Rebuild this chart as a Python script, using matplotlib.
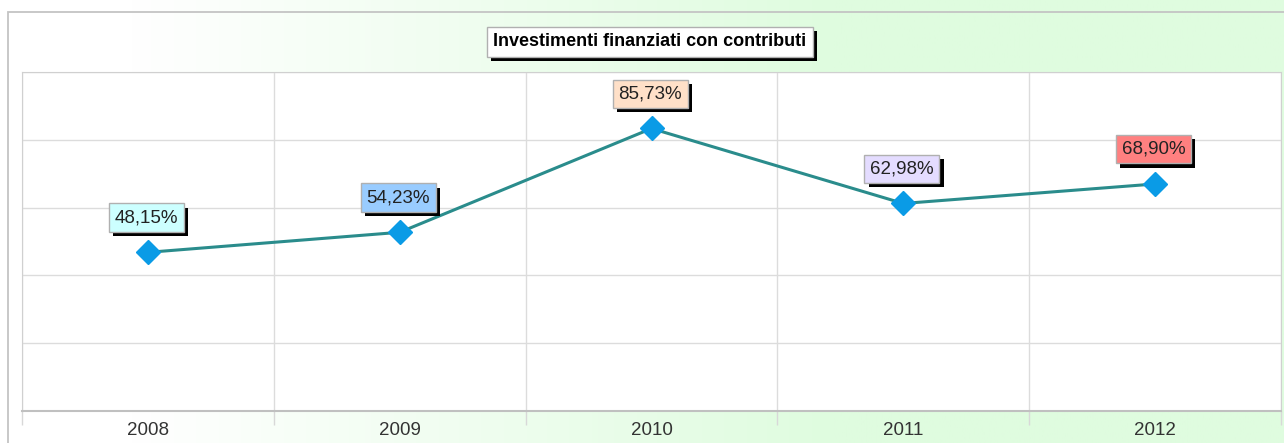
import numpy as np
import matplotlib
matplotlib.use('Agg')
import matplotlib.pyplot as plt
import matplotlib.patheffects as pe
from matplotlib.colors import LinearSegmentedColormap
from matplotlib.patches import Rectangle

# Data
years = ['2008', '2009', '2010', '2011', '2012']
values = [48.15, 54.23, 85.73, 62.98, 68.90]
labels = ['48,15%', '54,23%', '85,73%', '62,98%', '68,90%']
label_colors = ['#ccffff', '#99ccff', '#ffe0c8', '#e4dcff', '#ff8080']

plt.rcParams['font.family'] = ['Liberation Sans', 'DejaVu Sans']

W, H = 1284, 443
fig = plt.figure(figsize=(W / 100, H / 100), dpi=100)

# background gradient (white -> light green)
bg = fig.add_axes([0, 0, 1, 1], zorder=0)
grad = np.linspace(0, 1, 512)
grad = np.clip((grad - 0.1) / 0.55, 0, 1).reshape(1, -1)
cmap = LinearSegmentedColormap.from_list('bg', ['#ffffff', '#dffcdf'])
bg.imshow(grad, aspect='auto', cmap=cmap, extent=[0, 1, 0, 1])
bg.add_patch(Rectangle((8 / W, -0.1), 1.2, 1 - 12 / H + 0.1, fill=False,
                       edgecolor='#c4c4c4', lw=1.3))
bg.set_xlim(0, 1)
bg.set_ylim(0, 1)
bg.axis('off')

left, right, top, bottom = 22, 1281, 72, 411
ax = fig.add_axes([left / W, 1 - bottom / H, (right - left) / W, (bottom - top) / H], zorder=1)
ax.set_facecolor('white')

x = np.arange(len(years))
ax.plot(x, values, color='#2a8c8c', lw=2.2, zorder=3)
ax.plot(x, values, 'D', color='#0a9be6', markersize=12, zorder=4)

ax.set_xlim(-0.5, len(years) - 0.5)
ymax = max(values) * 1.2
ax.set_ylim(0, ymax)
ax.set_yticks(np.linspace(0, ymax, 6))
ax.set_yticklabels([])
ax.tick_params(axis='y', length=0)
ax.set_xticks(x)
ax.set_xticklabels(years, fontsize=13.5, color='#333333')
ax.tick_params(axis='x', which='major', length=0, pad=8)
ax.set_xticks(np.arange(-0.5, len(years)), minor=True)
ax.tick_params(axis='x', which='minor', length=10, color='#d8d8d8', width=1)
ax.grid(True, which='minor', axis='x', color='#dcdcdc', lw=1)
ax.grid(True, which='major', axis='y', color='#dcdcdc', lw=1)
ax.set_axisbelow(True)
for side in ['left', 'top', 'right']:
    ax.spines[side].set_color('#d0d0d0')
ax.spines['bottom'].set_color('#c0c0c0')
ax.spines['bottom'].set_linewidth(1.5)

shadow = [pe.SimplePatchShadow(offset=(3, -3), shadow_rgbFace='black', alpha=1), pe.Normal()]

for xi, v, lab, c in zip(x, values, labels, label_colors):
    t = ax.annotate(lab, (xi, v), xytext=(-1, 25), textcoords='offset points',
                    ha='center', va='center', fontsize=13.5, color='#222222', zorder=5,
                    bbox=dict(boxstyle='square,pad=0.3', fc=c, ec='#b0b0b0', lw=1))
    t.get_bbox_patch().set_path_effects(shadow)

title = fig.text(650 / W, 1 - 42 / H, 'Investimenti finanziati con contributi',
                 ha='center', va='center', fontsize=13, fontweight='bold', color='black',
                 zorder=5, bbox=dict(boxstyle='square,pad=0.35', fc='white', ec='#b0b0b0', lw=1))
title.get_bbox_patch().set_path_effects(shadow)

fig.savefig('out.png', dpi=100)
